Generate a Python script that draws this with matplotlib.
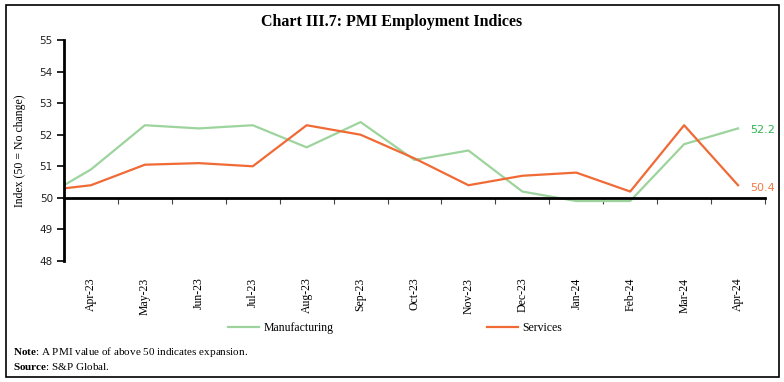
import numpy as np
import matplotlib
matplotlib.use("Agg")
import matplotlib.pyplot as plt
from matplotlib.patches import Rectangle

# ── data ──────────────────────────────────────────────────────────────────────
months = ["Apr-23", "May-23", "Jun-23", "Jul-23", "Aug-23", "Sep-23", "Oct-23",
          "Nov-23", "Dec-23", "Jan-24", "Feb-24", "Mar-24", "Apr-24"]
# first point (Mar-23) sits on the axis edge, unlabelled
x_pos = [-0.5] + list(range(len(months)))
manufacturing = [50.4, 50.9, 52.3, 52.2, 52.3, 51.6, 52.4, 51.2, 51.5, 50.2, 49.9, 49.9, 51.7, 52.2]
services      = [50.3, 50.4, 51.05, 51.1, 51.0, 52.3, 52.0, 51.25, 50.4, 50.7, 50.8, 50.2, 52.3, 50.4]
y_ticks = [48, 49, 50, 51, 52, 53, 54, 55]

GREEN = "#9dd49d"
ORANGE = "#f06a35"
SERIF = "Liberation Serif"

plt.rcParams["mathtext.fontset"] = "custom"
plt.rcParams["mathtext.rm"] = SERIF
plt.rcParams["mathtext.bf"] = SERIF + ":bold"

# ── figure ────────────────────────────────────────────────────────────────────
fig = plt.figure(figsize=(7.84, 3.82), dpi=100)
ax = fig.add_axes([64/784, 1-261/382, (765-64)/784, (261-40)/382])

ax.plot(x_pos, manufacturing, color=GREEN, lw=1.6, label="Manufacturing")
ax.plot(x_pos, services, color=ORANGE, lw=1.6, label="Services")

ax.set_xlim(-0.5, len(months) - 0.5)
ax.set_ylim(48, 55)
ax.set_yticks(y_ticks)
ax.set_yticklabels([str(v) for v in y_ticks], fontsize=7.5, family="DejaVu Sans", color="#222222")

# axis line at 50, ticks at category boundaries
for s in ["top", "right"]:
    ax.spines[s].set_visible(False)
ax.spines["left"].set_linewidth(2)
ax.spines["bottom"].set_position(("data", 50))
ax.spines["bottom"].set_linewidth(2)
ax.set_xticks(np.arange(-0.5, len(months), 1.0))
ax.set_xticklabels([])
ax.tick_params(axis="x", direction="out", length=4, width=0.8, color="#444444")
ax.tick_params(axis="y", direction="out", length=5, width=1.2, pad=3)

for i, m in enumerate(months):
    ax.text(i, -0.075, m, transform=ax.get_xaxis_transform(), rotation=90,
            ha="center", va="top", fontsize=8.5, family=SERIF)

ax.set_ylabel("Index (50 = No change)", family=SERIF, fontsize=8.5, labelpad=10)

# end labels
ax.annotate("52.2", (x_pos[-1], manufacturing[-1]), xytext=(9, -1), textcoords="offset points",
            color="#2fb350", fontsize=8, va="center", family="DejaVu Sans")
ax.annotate("50.4", (x_pos[-1], services[-1]), xytext=(9, -2), textcoords="offset points",
            color="#f07a45", fontsize=8, va="center", family="DejaVu Sans")

fig.legend(loc="center", bbox_to_anchor=(395/784, 1-328/382), ncol=2, frameon=False,
           prop={"family": SERIF, "size": 8.5}, handlelength=2.6, columnspacing=13,
           handletextpad=0.4)

fig.text(0.5, 1-22/382, "Chart III.7: PMI Employment Indices", ha="center", va="center",
         fontsize=11.5, fontweight="bold", family=SERIF)

fig.text(13/784, 1-352/382, r"$\mathbf{Note}$: A PMI value of above 50 indicates expansion.",
         fontsize=8, family=SERIF, va="center")
fig.text(13/784, 1-367/382, r"$\mathbf{Source}$: S&P Global.", fontsize=8, family=SERIF, va="center")

fig.patches.append(Rectangle((6/784, 5/382), 773/784, 372/382, transform=fig.transFigure,
                             fill=False, lw=1.2, edgecolor="black"))

fig.savefig("out.png", dpi=100)
